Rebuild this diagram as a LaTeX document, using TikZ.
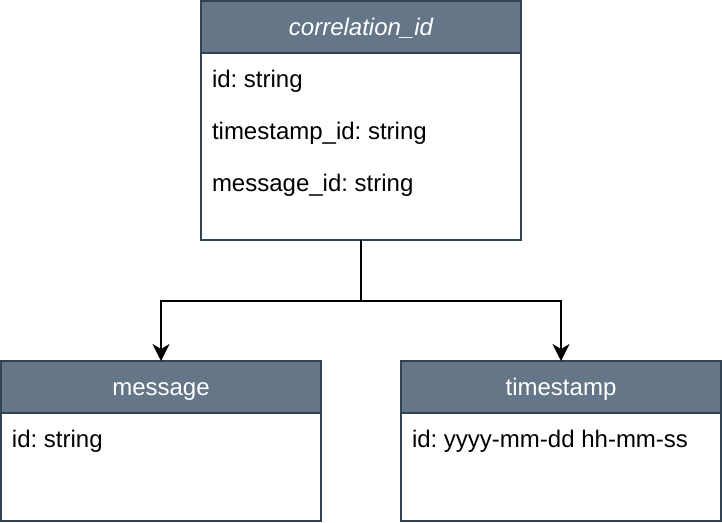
\documentclass[tikz,border=0pt]{standalone}
\usepackage{fontspec}
\setmainfont{Liberation Sans}
\usetikzlibrary{arrows.meta}
\definecolor{hdrfill}{HTML}{647687}
\definecolor{hdrline}{HTML}{314354}
\frenchspacing
\begin{document}
\begin{tikzpicture}[x=1pt,y=-1pt,
  every node/.style={inner sep=0pt,outer sep=0pt},
  boxbody/.style={draw=hdrline,line width=2pt,fill=white,rectangle,anchor=north west,minimum width=320pt},
  boxhead/.style={draw=hdrline,line width=2pt,fill=hdrfill,rectangle,anchor=north west,minimum width=320pt,minimum height=52pt,text=white,text height=20pt,text depth=4pt,font=\fontsize{24}{28}\selectfont},
  rowtext/.style={anchor=base west,font=\fontsize{24}{28}\selectfont,text=black},
  arr/.style={draw=black,line width=2pt,-{Stealth[length=17pt,width=17pt,inset=5pt]}},
  conn/.style={draw=black,line width=2pt}]
\useasboundingbox (0,0) rectangle (722,522);
% top entity
\node[boxbody,minimum height=239pt] (corr) at (201,1) {};
\node[boxhead] (corrh) at (201,1) {\itshape correlation\_id};
\node[rowtext] (corr1) at (212,87.5) {id: string};
\node[rowtext] (corr2) at (212,139.5) {timestamp\_id: string};
\node[rowtext] (corr3) at (212,191.5) {message\_id: string};
% message entity
\node[boxbody,minimum height=160pt] (msg) at (1,361) {};
\node[boxhead] (msgh) at (1,361) {message};
\node[rowtext] (msg1) at (12,447.5) {id: string};
% timestamp entity
\node[boxbody,minimum height=160pt] (ts) at (401,361) {};
\node[boxhead] (tsh) at (401,361) {timestamp};
\node[rowtext] (ts1) at (412,447.5) {id: yyyy-mm-dd hh-mm-ss};
% connectors
\coordinate (j) at (361,301);
\draw[conn] (corr.south) -- (j);
\draw[arr] (j) -| (msgh.north);
\draw[arr] (j) -| (tsh.north);
\end{tikzpicture}
\end{document}
